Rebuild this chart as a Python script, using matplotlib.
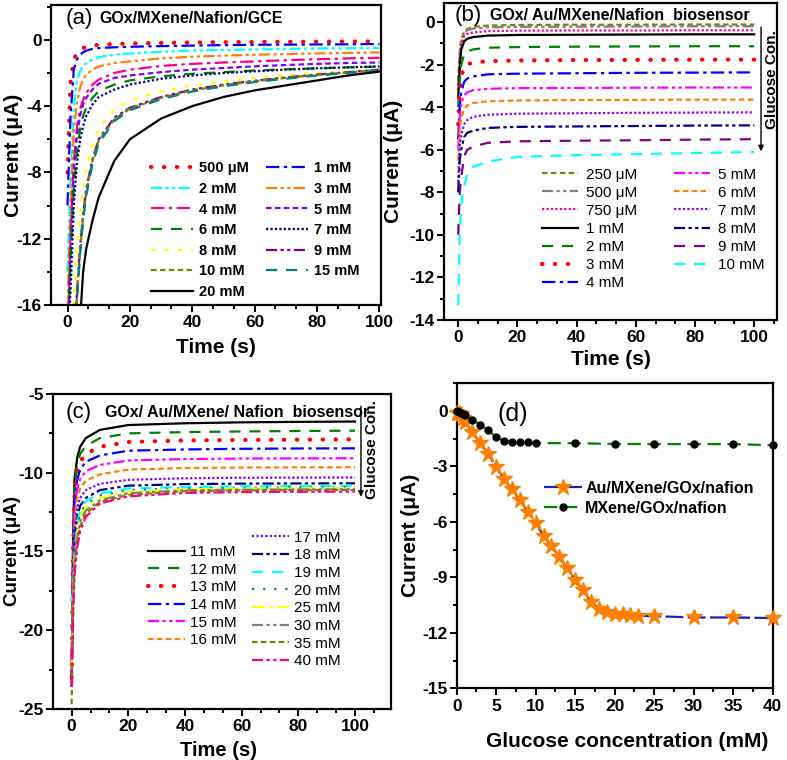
import matplotlib
matplotlib.use('Agg')
import matplotlib.pyplot as plt
from matplotlib.ticker import MultipleLocator, AutoMinorLocator

plt.rcParams['font.family'] = ['Liberation Sans', 'DejaVu Sans']
plt.rcParams['font.weight'] = 'bold'
plt.rcParams['axes.labelweight'] = 'bold'
plt.rcParams['axes.unicode_minus'] = False

# ---------------- panel (a) data: GOx/MXene/Nafion/GCE ----------------
a_time = [0, 0.5, 1, 2, 3, 4, 5, 6, 8, 10, 15, 20, 30, 40, 50, 60, 70, 80, 90, 100]
a_500uM = [-8, -5, -2.5, -1.2, -0.8, -0.6, -0.5, -0.42, -0.35, -0.3, -0.26, -0.22, -0.19, -0.16, -0.14, -0.13, -0.12, -0.11, -0.1, -0.1]
a_1mM = [-10, -7, -4.5, -1.8, -1.2, -0.9, -0.75, -0.65, -0.55, -0.5, -0.45, -0.42, -0.38, -0.35, -0.32, -0.3, -0.29, -0.28, -0.27, -0.25]
a_2mM = [-14, -11, -8, -4, -2.5, -1.9, -1.6, -1.4, -1.2, -1.05, -0.9, -0.82, -0.72, -0.65, -0.61, -0.58, -0.55, -0.52, -0.51, -0.5]
a_3mM = [-16.5, -13, -10, -5.5, -3.8, -2.9, -2.4, -2.1, -1.8, -1.6, -1.4, -1.3, -1.12, -1.02, -0.95, -0.9, -0.86, -0.82, -0.79, -0.76]
a_4mM = [-18, -15, -11.5, -7.5, -5.3, -4.2, -3.6, -3.2, -2.7, -2.4, -2.0, -1.8, -1.58, -1.45, -1.37, -1.3, -1.23, -1.17, -1.12, -1.08]
a_5mM = [-18, -15.5, -12, -8, -5.8, -4.6, -3.9, -3.5, -3.0, -2.65, -2.3, -2.15, -1.95, -1.8, -1.7, -1.6, -1.52, -1.45, -1.4, -1.37]
a_6mM = [-18, -16, -13, -9, -6.8, -5.4, -4.6, -4.1, -3.5, -3.1, -2.7, -2.45, -2.2, -2.05, -1.95, -1.85, -1.78, -1.72, -1.66, -1.62]
a_7mM = [-18, -17, -15, -10, -7.5, -6.1, -5.2, -4.6, -3.9, -3.45, -3.0, -2.7, -2.35, -2.15, -2.0, -1.9, -1.8, -1.72, -1.66, -1.6]
a_8mM = [-20, -20, -19, -16, -12.5, -10.5, -8.9, -7.8, -6.3, -5.3, -4.2, -3.65, -3.1, -2.75, -2.5, -2.3, -2.15, -2.0, -1.88, -1.78]
a_9mM = [-20, -20, -20, -19, -15.3, -12.6, -10.5, -9.0, -7.2, -6.0, -4.7, -4.1, -3.45, -3.0, -2.7, -2.47, -2.27, -2.1, -1.95, -1.8]
a_10mM = [-20, -20, -20, -19, -15.5, -12.8, -10.7, -9.2, -7.3, -6.1, -4.8, -4.15, -3.5, -3.05, -2.75, -2.5, -2.3, -2.12, -1.97, -1.82]
a_15mM = [-20, -20, -20, -19.5, -15.8, -13.0, -10.9, -9.4, -7.5, -6.25, -4.9, -4.25, -3.58, -3.12, -2.8, -2.55, -2.35, -2.15, -2.0, -1.85]
a_20mM = [-20, -20, -20, -20, -20, -17, -14, -12.6, -10.9, -9.5, -7.3, -6.0, -4.75, -4.0, -3.45, -3.05, -2.75, -2.45, -2.15, -1.92]

# ---------------- panel (b) data: 250 uM - 10 mM ----------------
b_time = [0, 0.5, 1, 2, 3, 5, 10, 20, 40, 60, 80, 100]
b_250uM = [-2.8, -1.4, -0.8, -0.45, -0.32, -0.22, -0.16, -0.13, -0.12, -0.12, -0.11, -0.11]
b_500uM = [-3.0, -1.6, -0.9, -0.5, -0.38, -0.3, -0.24, -0.22, -0.21, -0.2, -0.19, -0.19]
b_750uM = [-3.2, -1.8, -1.0, -0.65, -0.55, -0.48, -0.42, -0.4, -0.39, -0.39, -0.38, -0.38]
b_1mM = [-3.5, -2.2, -1.3, -0.9, -0.78, -0.7, -0.63, -0.6, -0.59, -0.58, -0.57, -0.57]
b_2mM = [-4.0, -2.8, -2.0, -1.5, -1.38, -1.28, -1.2, -1.17, -1.15, -1.14, -1.13, -1.13]
b_3mM = [-4.8, -3.4, -2.6, -2.1, -1.98, -1.9, -1.83, -1.8, -1.78, -1.77, -1.76, -1.76]
b_4mM = [-5.5, -4.0, -3.3, -2.8, -2.65, -2.55, -2.45, -2.42, -2.4, -2.38, -2.37, -2.36]
b_5mM = [-6.0, -4.5, -3.8, -3.45, -3.3, -3.2, -3.13, -3.1, -3.09, -3.08, -3.07, -3.07]
b_6mM = [-6.5, -5.0, -4.5, -4.1, -3.92, -3.8, -3.72, -3.68, -3.66, -3.65, -3.64, -3.64]
b_7mM = [-7.5, -5.8, -5.3, -4.8, -4.6, -4.45, -4.35, -4.3, -4.28, -4.26, -4.25, -4.24]
b_8mM = [-8.0, -6.5, -6.0, -5.4, -5.2, -5.1, -4.97, -4.92, -4.9, -4.88, -4.86, -4.85]
b_9mM = [-10.0, -8.0, -7.3, -6.3, -6.0, -5.85, -5.67, -5.6, -5.57, -5.55, -5.52, -5.5]
b_10mM = [-13.3, -10.0, -8.5, -7.7, -7.2, -6.8, -6.55, -6.33, -6.25, -6.2, -6.15, -6.1]

# ---------------- panel (c) data: 11 mM - 40 mM ----------------
c_time = [0, 0.5, 1, 2, 3, 5, 10, 20, 40, 60, 80, 100]
c_11mM = [-23.5, -14, -10.4, -9.0, -8.35, -7.8, -7.28, -6.97, -6.86, -6.8, -6.77, -6.75]
c_12mM = [-23, -14.5, -11.0, -9.4, -8.8, -8.3, -7.8, -7.5, -7.42, -7.38, -7.35, -7.33]
c_13mM = [-23, -15, -11.5, -9.9, -9.3, -8.8, -8.35, -8.05, -7.95, -7.92, -7.9, -7.88]
c_14mM = [-22, -15.5, -12, -10.4, -9.8, -9.3, -8.9, -8.6, -8.52, -8.48, -8.46, -8.45]
c_15mM = [-22, -16, -12.6, -11.0, -10.4, -9.9, -9.5, -9.22, -9.13, -9.1, -9.09, -9.08]
c_16mM = [-22, -16.5, -13.2, -11.6, -11.0, -10.5, -10.1, -9.8, -9.7, -9.67, -9.66, -9.65]
c_17mM = [-22, -17, -13.8, -12.2, -11.6, -11.1, -10.7, -10.45, -10.35, -10.32, -10.31, -10.3]
c_18mM = [-23, -17.5, -14.5, -12.8, -12.1, -11.6, -11.1, -10.82, -10.72, -10.69, -10.68, -10.67]
c_19mM = [-18.2, -17.5, -15, -13.2, -12.4, -11.8, -11.3, -11.0, -10.9, -10.86, -10.84, -10.83]
c_20mM = [-20, -17.8, -15.2, -13.4, -12.6, -12.0, -11.45, -11.1, -10.98, -10.95, -10.93, -10.92]
c_25mM = [-22.5, -18, -15.5, -13.7, -12.8, -12.2, -11.6, -11.2, -11.05, -11.01, -10.99, -10.98]
c_30mM = [-21.5, -18.2, -15.7, -14.0, -13.1, -12.4, -11.75, -11.3, -11.12, -11.08, -11.06, -11.05]
c_35mM = [-24.7, -18.5, -16, -14.3, -13.4, -12.6, -11.85, -11.4, -11.17, -11.12, -11.1, -11.09]
c_40mM = [-23.6, -19, -16.5, -14.7, -13.7, -12.8, -11.95, -11.5, -11.28, -11.23, -11.21, -11.2]

# ---------------- panel (d) data: calibration ----------------
d_conc_au = [0, 0.25, 0.5, 0.75, 1, 2, 3, 4, 5, 6, 7, 8, 9, 10, 11, 12, 13, 14, 15, 16, 17, 18, 19, 20, 21, 22, 23, 25, 30, 35, 40]
d_cur_au = [-0.1, -0.11, -0.19, -0.38, -0.58, -1.17, -1.75, -2.33, -3.05, -3.66, -4.24, -4.82, -5.45, -6.08, -6.75,
            -7.31, -7.89, -8.52, -9.15, -9.69, -10.32, -10.69, -10.87, -10.99, -11.0, -11.05, -11.08, -11.1, -11.17, -11.17, -11.2]
d_conc_mx = [0, 0.25, 0.5, 0.75, 1, 2, 3, 4, 5, 6, 7, 8, 9, 10, 15, 20, 25, 30, 35, 40]
d_cur_mx = [0, -0.05, -0.1, -0.15, -0.22, -0.49, -0.76, -1.06, -1.43, -1.62, -1.7, -1.7, -1.71, -1.75, -1.75, -1.79, -1.8, -1.8, -1.8, -1.86]

# line styles (Origin-like)
SOLID = '-'
DASH = (0, (5, 4))
SDASH = (0, (2.5, 1.5))
DOT = (0, (1, 1))
SPDOT = (0, (1, 4))
DDOT = (0, (6, 2, 1.5, 2))
DDDOT = (0, (5, 1.5, 1.5, 1.5, 1.5, 1.5))
BIGDOT = (0, (0.1, 3))

a_curves = [
    (a_500uM, '500 μM', '#FF0000', BIGDOT), (a_1mM, '1 mM', '#0000FF', DDOT),
    (a_2mM, '2 mM', '#00FFFF', DDDOT), (a_3mM, '3 mM', '#FF8000', DDDOT),
    (a_4mM, '4 mM', '#FF0080', DDOT), (a_5mM, '5 mM', '#8000FF', SDASH),
    (a_6mM, '6 mM', '#008000', DASH), (a_7mM, '7 mM', '#000080', DOT),
    (a_8mM, '8 mM', '#FFFF00', (0, (2, 4))), (a_9mM, '9 mM', '#800080', DDDOT),
    (a_10mM, '10 mM', '#808000', SDASH), (a_15mM, '15 mM', '#008080', DASH),
    (a_20mM, '20 mM', '#000000', SOLID),
]
b_curves = [
    (b_250uM, '250 μM', '#808000', SDASH), (b_500uM, '500 μM', '#808080', DDDOT),
    (b_750uM, '750 μM', '#FF0080', DOT), (b_1mM, '1 mM', '#000000', SOLID),
    (b_2mM, '2 mM', '#008000', DASH), (b_3mM, '3 mM', '#FF0000', BIGDOT),
    (b_4mM, '4 mM', '#0000FF', DDOT), (b_5mM, '5 mM', '#FF00FF', DDDOT),
    (b_6mM, '6 mM', '#FF8000', SDASH), (b_7mM, '7 mM', '#8000FF', DOT),
    (b_8mM, '8 mM', '#000080', DDDOT), (b_9mM, '9 mM', '#800080', DASH),
    (b_10mM, '10 mM', '#00FFFF', DASH),
]
c_curves = [
    (c_11mM, '11 mM', '#000000', SOLID), (c_12mM, '12 mM', '#008000', DASH),
    (c_13mM, '13 mM', '#FF0000', BIGDOT), (c_14mM, '14 mM', '#0000FF', DDOT),
    (c_15mM, '15 mM', '#FF00FF', DDDOT), (c_16mM, '16 mM', '#FF8000', SDASH),
    (c_17mM, '17 mM', '#8000FF', DOT), (c_18mM, '18 mM', '#000080', DDDOT),
    (c_19mM, '19 mM', '#00FFFF', DASH), (c_20mM, '20 mM', '#008080', SPDOT),
    (c_25mM, '25 mM', '#FFFF00', DDOT), (c_30mM, '30 mM', '#808080', DDDOT),
    (c_35mM, '35 mM', '#808000', SDASH), (c_40mM, '40 mM', '#FF0080', DDDOT),
]


def draw(ax, t, curves):
    lines = []
    for vals, lab, col, ls in curves:
        lw = 3 if ls is BIGDOT else 1.6
        ln, = ax.plot(t, vals, color=col, ls=ls, lw=lw, label=lab,
                      dash_capstyle='round' if ls is BIGDOT else 'butt')
        lines.append(ln)
    return lines


def style(ax, xmaj, xn, ymaj, yn):
    for s in ax.spines.values():
        s.set_linewidth(1.6)
    ax.xaxis.set_major_locator(MultipleLocator(xmaj))
    ax.xaxis.set_minor_locator(AutoMinorLocator(xn))
    ax.yaxis.set_major_locator(MultipleLocator(ymaj))
    ax.yaxis.set_minor_locator(AutoMinorLocator(yn))
    ax.tick_params(which='both', direction='out', width=1.4, labelsize=12.5, top=False, right=False)
    ax.tick_params(which='major', length=5)
    ax.tick_params(which='minor', length=3)
    ax.tick_params(axis='y', which='both', pad=1.5)
    ax.tick_params(axis='x', which='both', pad=2.5)


fig = plt.figure(figsize=(7.87, 7.6), dpi=100)
axA = fig.add_axes([0.0648, 0.5987, 0.4193, 0.3947])
axB = fig.add_axes([0.5642, 0.5789, 0.4231, 0.4171])
axC = fig.add_axes([0.0673, 0.0671, 0.4295, 0.4145])
axD = fig.add_axes([0.5803, 0.0943, 0.4015, 0.4017])

# ---- (a)
la = draw(axA, a_time, a_curves)
axA.set_xlim(-5.3, 100.5)
axA.set_ylim(-16, 2.1)
style(axA, 20, 3, 4, 2)
order = [0, 2, 4, 6, 8, 10, 12, 1, 3, 5, 7, 9, 11]
axA.legend([la[i] for i in order], [la[i].get_label() for i in order], ncol=2, frameon=False,
           loc='upper left', bbox_to_anchor=(0.28, 0.503), prop={'size': 10.5, 'weight': 'bold'},
           handlelength=2.9, handletextpad=0.4, columnspacing=1.2, labelspacing=0.45, borderpad=0)
axA.text(0.045, 0.955, '(a)', transform=axA.transAxes, fontsize=16, fontweight='normal', va='center')
axA.text(0.148, 0.955, 'GOx/MXene/Nafion/GCE', transform=axA.transAxes, fontsize=11.5, va='center')
axA.set_xlabel('Time (s)', fontsize=15)
axA.set_ylabel('Current (μA)', fontsize=15)
axA.xaxis.set_label_coords(0.5, -0.11)
axA.yaxis.set_label_coords(-0.085, 0.5)

# ---- (b)
lb = draw(axB, b_time, b_curves)
axB.set_xlim(-4.8, 107.7)
axB.set_ylim(-14, 0.9)
style(axB, 20, 3, 2, 2)
axB.legend(lb, [l.get_label() for l in lb], ncol=2, frameon=False,
           loc='upper left', bbox_to_anchor=(0.27, 0.505), prop={'size': 11, 'weight': 'normal'},
           handlelength=2.4, handletextpad=0.5, columnspacing=2.4, labelspacing=0.27, borderpad=0)
axB.text(0.033, 0.962, '(b)', transform=axB.transAxes, fontsize=16, fontweight='normal', va='center')
axB.text(0.138, 0.962, 'GOx/ Au/MXene/Nafion  biosensor', transform=axB.transAxes, fontsize=11.5, va='center')
axB.annotate('', xy=(102.3, -6.2), xytext=(102.3, -0.1),
             arrowprops=dict(arrowstyle='-|>', lw=1, color='k', mutation_scale=8))
axB.text(106, -2.7, 'Glucose Con.', rotation=90, fontsize=11, ha='center', va='center')
axB.set_xlabel('Time (s)', fontsize=15)
axB.set_ylabel('Current (μA)', fontsize=15)
axB.xaxis.set_label_coords(0.5, -0.095)
axB.yaxis.set_label_coords(-0.123, 0.5)

# ---- (c)
lc = draw(axC, c_time, c_curves)
axC.set_xlim(-6.6, 112.7)
axC.set_ylim(-25, -5)
style(axC, 20, 3, 5, 2)
legc1 = axC.legend(lc[:6], [l.get_label() for l in lc[:6]], frameon=False,
                   loc='upper left', bbox_to_anchor=(0.26, 0.545), prop={'size': 11, 'weight': 'normal'},
                   handlelength=2.4, handletextpad=0.3, labelspacing=0.24, borderpad=0)
axC.add_artist(legc1)
axC.legend(lc[6:], [l.get_label() for l in lc[6:]], frameon=False,
           loc='upper left', bbox_to_anchor=(0.567, 0.59), prop={'size': 11, 'weight': 'normal'},
           handlelength=2.4, handletextpad=0.3, labelspacing=0.24, borderpad=0)
axC.text(0.036, 0.94, '(c)', transform=axC.transAxes, fontsize=16, fontweight='normal', va='center')
axC.text(0.154, 0.94, 'GOx/ Au/MXene/ Nafion  biosensor', transform=axC.transAxes, fontsize=11.5, va='center')
axC.annotate('', xy=(102.1, -11.7), xytext=(102.1, -5.6),
             arrowprops=dict(arrowstyle='-|>', lw=1, color='k', mutation_scale=8))
axC.text(106, -8.56, 'Glucose Con.', rotation=90, fontsize=11, ha='center', va='center')
axC.set_xlabel('Time (s)', fontsize=14.5)
axC.set_ylabel('Current (μA)', fontsize=13.5)
axC.xaxis.set_label_coords(0.49, -0.1)
axC.yaxis.set_label_coords(-0.094, 0.5)

# ---- (d)
axD.plot(d_conc_au, d_cur_au, color='#1f1fb0', ls=(0, (8, 2)), lw=1.6, marker='*', ms=12,
         mfc='#FF8000', mec='#FF8000', label='Au/MXene/GOx/nafion', clip_on=False, zorder=3)
axD.plot(d_conc_mx, d_cur_mx, color='#008000', ls=(0, (6, 3)), lw=1.6, marker='o', ms=5,
         mfc='k', mec='k', label='MXene/GOx/nafion', clip_on=False, zorder=4)
axD.set_xlim(0, 40)
axD.set_ylim(-15, 1.5)
style(axD, 5, 2, 3, 2)
axD.legend(frameon=False, loc='upper left', bbox_to_anchor=(0.25, 0.705), prop={'size': 11.5, 'weight': 'bold'},
           handlelength=2.4, handletextpad=0.2, labelspacing=0.3, borderpad=0, numpoints=1)
axD.text(0.13, 0.9, '(d)', transform=axD.transAxes, fontsize=18, fontweight='normal', va='center')
axD.set_xlabel('Glucose concentration (mM)', fontsize=15)
axD.set_ylabel('Current (μA)', fontsize=15)
axD.xaxis.set_label_coords(0.54, -0.143)
axD.yaxis.set_label_coords(-0.116, 0.5)

fig.savefig('out.png', dpi=100)
